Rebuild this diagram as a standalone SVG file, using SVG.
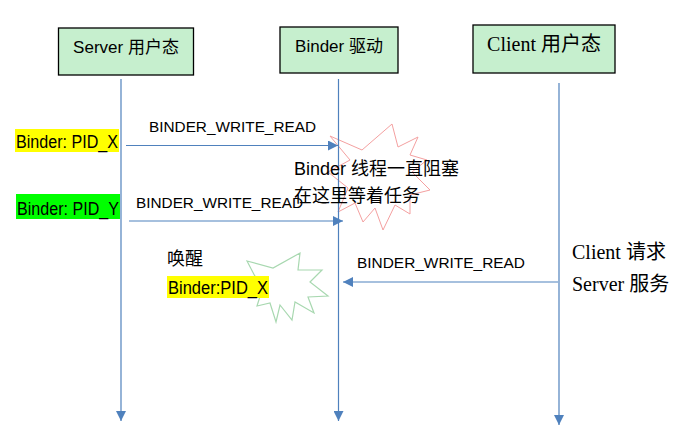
<svg xmlns="http://www.w3.org/2000/svg" width="680" height="427" viewBox="0 0 680 427">
<defs>
<marker id="ah" markerUnits="userSpaceOnUse" markerWidth="10" markerHeight="10" viewBox="0 0 10 10" refX="10" refY="5" orient="auto">
<path d="M0,0 L10,5 L0,10 Z" fill="#4F81BD"/>
</marker>
<style>
.box{fill:#C6EFCE;stroke:#000;stroke-width:1.3}
.ln{stroke:#4F81BD;stroke-width:1.2;fill:none}
.sans{font-family:"Liberation Sans","Noto Sans CJK SC",sans-serif;fill:#000}
.serif{font-family:"Liberation Serif","Noto Sans CJK SC",serif;fill:#000}
</style>
</defs>
<rect width="680" height="427" fill="#fff"/>
<g id="server">
<rect class="box" x="58.5" y="28" width="135" height="47"/>
<text class="sans" x="126" y="53" font-size="17" text-anchor="middle">Server 用户态</text>
</g>
<g id="binder">
<rect class="box" x="280" y="27" width="118" height="46"/>
<text class="sans" x="339" y="52" font-size="17" text-anchor="middle">Binder 驱动</text>
</g>
<g id="client">
<rect class="box" x="473" y="25" width="142" height="48"/>
<text class="serif" x="544" y="51" font-size="20" text-anchor="middle">Client 用户态</text>
</g>
<g id="stars">
<polygon points="330,136 362,150 392,124 398,147 418,137 410,155 427,160 412,172 430,190 410,195 410,214 395,205 383,230 375,208 363,222 355,203 338,212 348,188 328,172 350,160" fill="none" stroke="#F4A0A0" stroke-width="1"/>
<polygon points="247,261 273,268 300,253 298,270 322,270 310,282 328,296 308,297 314,313 295,302 292,320 280,305 276,322 270,303 257,306 262,290 247,297 258,282" fill="none" stroke="#A8D8B0" stroke-width="1.2"/>
</g>
<g id="connectors">
<line class="ln" x1="121" y1="79" x2="121" y2="421" marker-end="url(#ah)"/>
<line class="ln" x1="338.5" y1="79" x2="338.5" y2="421" marker-end="url(#ah)"/>
<line class="ln" x1="559" y1="83" x2="559" y2="425" marker-end="url(#ah)"/>
<line class="ln" x1="126" y1="145.5" x2="338" y2="145.5" marker-end="url(#ah)"/>
<line class="ln" x1="129" y1="221" x2="343" y2="221" marker-end="url(#ah)"/>
<line class="ln" x1="558" y1="282" x2="343" y2="282" marker-end="url(#ah)"/>
<text class="sans" x="149" y="132" font-size="15.5" textLength="167" lengthAdjust="spacingAndGlyphs">BINDER_WRITE_READ</text>
<text class="sans" x="136" y="208" font-size="15.5" textLength="167" lengthAdjust="spacingAndGlyphs">BINDER_WRITE_READ</text>
<text class="sans" x="357" y="268" font-size="15.5" textLength="168" lengthAdjust="spacingAndGlyphs">BINDER_WRITE_READ</text>
</g>
<g id="labels">
<rect x="15" y="129" width="104" height="23" fill="#FFFF00"/>
<text class="sans" x="16" y="148" font-size="17.5" textLength="102" lengthAdjust="spacingAndGlyphs">Binder: PID_X</text>
<rect x="16" y="194" width="104" height="25" fill="#00FF00"/>
<text class="sans" x="17" y="215" font-size="17.5" textLength="102" lengthAdjust="spacingAndGlyphs">Binder: PID_Y</text>
<text class="sans" x="294" y="175" font-size="18">Binder 线程一直阻塞</text>
<text class="sans" x="294" y="202" font-size="18">在这里等着任务</text>
<text class="sans" x="167" y="265" font-size="18">唤醒</text>
<rect x="167" y="276" width="102" height="22" fill="#FFFF00"/>
<text class="sans" x="168" y="294" font-size="17.5" textLength="100" lengthAdjust="spacingAndGlyphs">Binder:PID_X</text>
<text class="serif" x="572" y="259" font-size="20">Client 请求</text>
<text class="serif" x="572" y="291" font-size="20">Server 服务</text>
</g>
</svg>
